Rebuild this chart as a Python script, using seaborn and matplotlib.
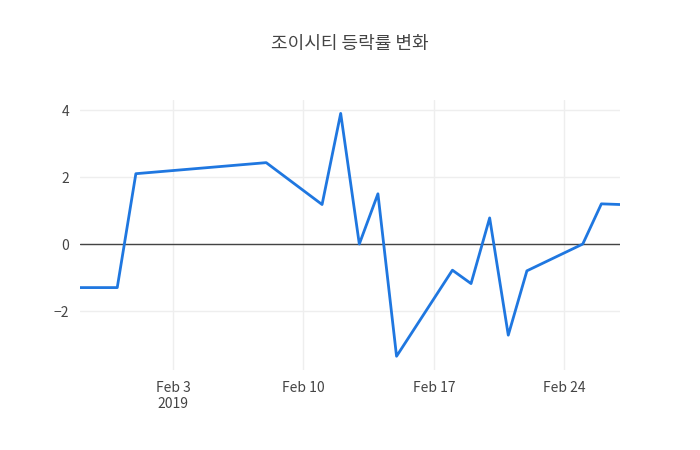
import matplotlib
matplotlib.use("Agg")
import matplotlib.pyplot as plt
import matplotlib.dates as mdates
import seaborn as sns
import pandas as pd

dates = ["2019-01-29","2019-01-31","2019-02-01","2019-02-08","2019-02-11","2019-02-12",
         "2019-02-13","2019-02-14","2019-02-15","2019-02-18","2019-02-19","2019-02-20",
         "2019-02-21","2019-02-22","2019-02-25","2019-02-26","2019-02-27"]
values = [-1.3,-1.3,2.1,2.43,1.18,3.9,0.0,1.5,-3.35,-0.78,-1.18,0.78,-2.72,-0.8,0.0,1.2,1.18]
title = "조이시티 등락률 변화"

df = pd.DataFrame({"date": pd.to_datetime(dates), "value": values})

sns.set_style("white")
plt.rcParams['font.family'] = ['Noto Sans CJK KR', 'DejaVu Sans']
fig = plt.figure(figsize=(7, 4.5), dpi=100)
ax = fig.add_axes([80/700, 1-370/450, 540/700, 270/450])
sns.lineplot(data=df, x="date", y="value", ax=ax, color="#1f77e0", linewidth=2)
ax.axhline(0, color="#444444", linewidth=1, zorder=1)
ax.set_xlim(pd.Timestamp("2019-01-29"), pd.Timestamp("2019-02-27"))
ax.set_ylim(-3.76, 4.3)
ax.set_yticks([-2, 0, 2, 4])
ax.set_yticklabels(["−2", "0", "2", "4"])
ticks = pd.to_datetime(["2019-02-03","2019-02-10","2019-02-17","2019-02-24"])
ax.set_xticks(ticks)
ax.set_xticklabels(["Feb 3\n2019", "Feb 10", "Feb 17", "Feb 24"])
ax.grid(True, color="#eeeeee", linewidth=1)
ax.set_axisbelow(True)
for s in ax.spines.values():
    s.set_visible(False)
ax.tick_params(length=0, labelsize=10, colors="#444444", pad=8)
ax.set_xlabel("")
ax.set_ylabel("")
fig.text(0.5, 1-44/450, title, ha="center", va="center", fontsize=13, color="#444444")
fig.savefig("out.png", dpi=100)
